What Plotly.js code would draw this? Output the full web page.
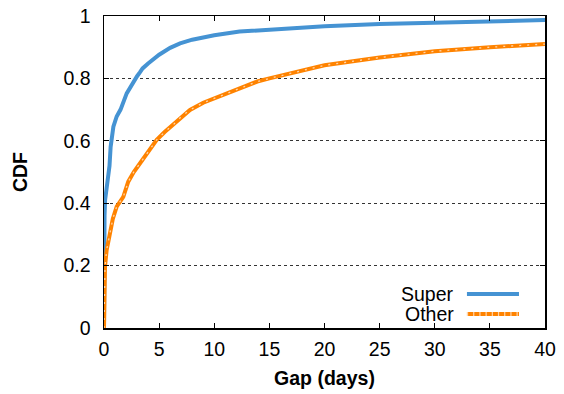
<!DOCTYPE html>
<html>
<head>
<meta charset="utf-8">
<script src="https://cdn.plot.ly/plotly-3.0.1.min.js"></script>
<style>html,body{margin:0;padding:0;background:#fff;}#chart{width:564px;height:394px;}</style>
</head>
<body>
<div id="chart"></div>
<script>
const seriesNames = ["Super", "Other"];
const superX = [0, 0, 0.02, 0.05, 0.1, 0.3, 0.5, 0.6, 0.7, 0.85, 1.15, 1.5, 2.06, 2.5, 3.0, 3.27, 3.5, 4.0, 4.78, 5.0, 6.0, 6.9, 8.0, 9.3, 10, 12.3, 15, 16.9, 20, 25, 30, 35, 40];
const superY = [0, 0.22, 0.3, 0.36, 0.41, 0.47, 0.52, 0.58, 0.62, 0.645, 0.678, 0.7, 0.752, 0.78, 0.807, 0.82, 0.832, 0.848, 0.87, 0.876, 0.898, 0.912, 0.924, 0.934, 0.938, 0.95, 0.957, 0.961, 0.967, 0.974, 0.979, 0.984, 0.987];
const otherX = [0, 0.02, 0.05, 0.09, 0.24, 0.54, 0.8, 1.15, 1.75, 2.2, 2.7, 3.27, 4.0, 4.78, 5.5, 6.3, 7.0, 7.8, 9.0, 10.8, 12, 13.9, 15, 16.9, 18, 20, 25, 30, 35, 40];
const otherY = [0, 0.1, 0.16, 0.196, 0.25, 0.30, 0.35, 0.389, 0.42, 0.469, 0.5, 0.528, 0.565, 0.603, 0.628, 0.652, 0.677, 0.699, 0.722, 0.747, 0.764, 0.79, 0.80, 0.816, 0.826, 0.842, 0.867, 0.887, 0.9, 0.91];
const xTicks = [0, 5, 10, 15, 20, 25, 30, 35, 40];
const yTicks = [0, 0.2, 0.4, 0.6, 0.8, 1];

const blue = "#4593d3", orange = "#ff8300", orangeLight = "#ffd3a8";
const font = "Liberation Sans, Arial, Helvetica, sans-serif";
const fs = 19.5;

const traces = [
  {x: superX, y: superY, type: "scatter", mode: "lines", name: seriesNames[0],
   line: {color: blue, width: 4}, showlegend: false},
  {x: otherX, y: otherY, type: "scatter", mode: "lines", name: seriesNames[1],
   line: {color: orange, width: 4}, showlegend: false},
  {x: otherX, y: otherY, type: "scatter", mode: "lines", name: seriesNames[1],
   line: {color: orangeLight, width: 1.3, dash: "2px,6px"}, showlegend: false, hoverinfo: "skip"}
];

const legY = [0.109, 0.045];
const shapes = [
  {type: "line", xref: "paper", yref: "paper", x0: 0.823, x1: 0.941, y0: legY[0], y1: legY[0],
   line: {color: blue, width: 4}},
  {type: "line", xref: "paper", yref: "paper", x0: 0.823, x1: 0.941, y0: legY[1], y1: legY[1],
   line: {color: orange, width: 4}},
  {type: "line", xref: "paper", yref: "paper", x0: 0.823, x1: 0.941, y0: legY[1], y1: legY[1],
   line: {color: orangeLight, width: 4, dash: "1.2px,5px"}}
];
const annotations = legY.map((y, i) => ({xref: "paper", yref: "paper", x: 0.798, y: y,
  xanchor: "right", yanchor: "middle", text: seriesNames[i], showarrow: false,
  font: {family: font, size: fs, color: "#000"}}));

const layout = {
  width: 564, height: 394,
  margin: {l: 104, r: 19, t: 16, b: 66},
  paper_bgcolor: "#fff", plot_bgcolor: "#fff",
  font: {family: font, size: fs, color: "#000"},
  showlegend: false,
  xaxis: {range: [0, 40], tickvals: xTicks, ticks: "inside", ticklen: 5, tickcolor: "#000",
    showline: true, linecolor: "#000", linewidth: 1.5, mirror: "ticks", showgrid: false,
    zeroline: false, ticklabelstandoff: 3,
    title: {text: "<b>Gap (days)</b>", font: {family: font, size: fs}, standoff: 12}},
  yaxis: {range: [0, 1], tickvals: yTicks, ticks: "inside", ticklen: 5, tickcolor: "#000",
    showline: true, linecolor: "#000", linewidth: 1.5, mirror: "ticks",
    showgrid: true, gridcolor: "#333", griddash: "dot", gridwidth: 1,
    zeroline: false, ticklabelstandoff: 8,
    title: {text: "<b>CDF</b>", font: {family: font, size: fs}, standoff: 30}},
  shapes: shapes,
  annotations: annotations
};

Plotly.newPlot("chart", traces, layout, {displayModeBar: false, staticPlot: true});
</script>
</body>
</html>
